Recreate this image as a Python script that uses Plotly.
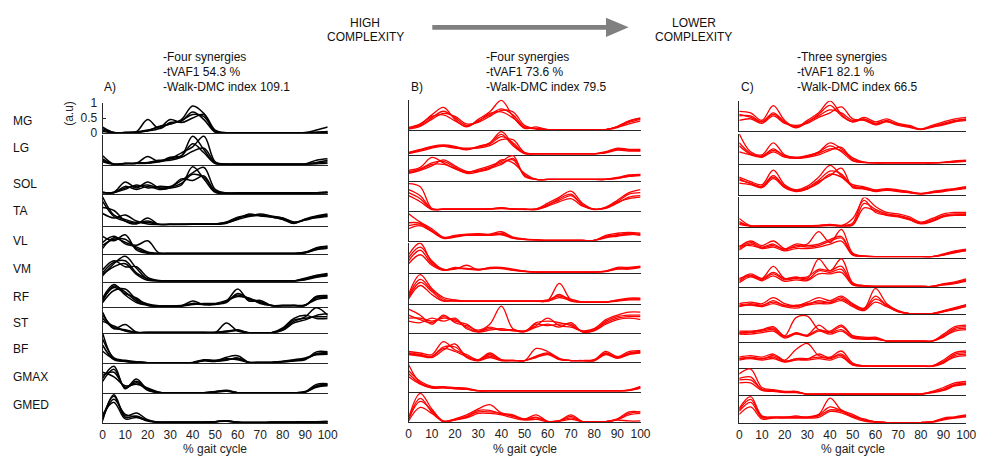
import plotly.graph_objects as go

# ---------------- DATA ----------------
X = [0, 5, 10, 15, 20, 25, 30, 35, 40, 45, 50, 55, 60, 65, 70, 75, 80, 85, 90, 95, 100]
MUSCLES = ["MG", "LG", "SOL", "TA", "VL", "VM", "RF", "ST", "BF", "GMAX", "GMED"]
X_TICKS = [0, 10, 20, 30, 40, 50, 60, 70, 80, 90, 100]
Y_TICKS = [0, 0.5, 1]
Y_TICK_TEXT = ["0", "0.5", "1"]
PANEL_TITLES = ["A)", "B)", "C)"]
PANEL_NOTES = [
    ["-Four synergies", "-tVAF1 54.3 %", "-Walk-DMC index 109.1"],
    ["-Four synergies", "-tVAF1 73.6 %", "-Walk-DMC index 79.5"],
    ["-Three synergies", "-tVAF1 82.1 %", "-Walk-DMC index 66.5"],
]

# Panel A (black)
A_MG = [[0.15,0.02,0.02,0.04,0.10,0.20,0.30,0.42,0.62,0.55,0.05,0.01,0.01,0.01,0.01,0.01,0.01,0.01,0.01,0.02,0.05],
        [0.20,0.02,0.02,0.03,0.08,0.22,0.30,0.45,0.90,0.65,0.06,0.01,0.01,0.01,0.01,0.01,0.01,0.01,0.02,0.10,0.20],
        [0.10,0.01,0.02,0.05,0.45,0.15,0.35,0.40,0.70,0.45,0.03,0.01,0.01,0.01,0.01,0.01,0.01,0.01,0.01,0.02,0.03],
        [0.05,0.01,0.01,0.03,0.07,0.15,0.45,0.35,0.50,0.62,0.10,0.01,0.01,0.01,0.01,0.01,0.01,0.01,0.01,0.03,0.04]]
A_LG = [[0.30,0.02,0.04,0.05,0.06,0.12,0.15,0.25,0.45,0.55,0.08,0.02,0.02,0.02,0.02,0.02,0.02,0.02,0.02,0.05,0.10],
        [0.20,0.02,0.05,0.05,0.28,0.10,0.20,0.30,0.95,0.50,0.05,0.02,0.02,0.02,0.02,0.02,0.02,0.02,0.03,0.15,0.20],
        [0.10,0.01,0.03,0.06,0.08,0.15,0.20,0.40,0.60,0.95,0.10,0.02,0.02,0.02,0.02,0.02,0.02,0.02,0.02,0.08,0.15],
        [0.15,0.02,0.04,0.04,0.05,0.10,0.25,0.30,0.70,0.40,0.04,0.02,0.02,0.02,0.02,0.02,0.02,0.02,0.02,0.03,0.05]]
A_SOL = [[0.05,0.05,0.20,0.25,0.30,0.20,0.22,0.35,0.65,0.55,0.10,0.03,0.03,0.03,0.03,0.03,0.03,0.03,0.03,0.04,0.05],
         [0.05,0.06,0.40,0.20,0.40,0.20,0.20,0.30,0.90,0.50,0.05,0.02,0.03,0.03,0.03,0.03,0.03,0.03,0.03,0.04,0.06],
         [0.04,0.05,0.15,0.30,0.20,0.25,0.25,0.45,0.70,0.88,0.15,0.03,0.03,0.03,0.03,0.03,0.03,0.03,0.03,0.04,0.05],
         [0.06,0.04,0.25,0.15,0.25,0.15,0.20,0.50,0.45,0.60,0.08,0.02,0.02,0.03,0.03,0.03,0.03,0.03,0.03,0.03,0.04]]
A_TA = [[0.95,0.35,0.20,0.10,0.10,0.04,0.04,0.04,0.04,0.05,0.05,0.10,0.25,0.35,0.35,0.30,0.25,0.10,0.20,0.30,0.35],
        [0.60,0.50,0.15,0.05,0.25,0.03,0.03,0.04,0.05,0.05,0.04,0.08,0.22,0.38,0.32,0.28,0.22,0.08,0.22,0.32,0.38],
        [0.40,0.25,0.35,0.15,0.05,0.03,0.04,0.04,0.04,0.04,0.05,0.12,0.28,0.32,0.38,0.32,0.25,0.12,0.18,0.28,0.32],
        [0.80,0.30,0.15,0.08,0.15,0.04,0.04,0.03,0.04,0.05,0.05,0.09,0.20,0.30,0.33,0.28,0.20,0.07,0.20,0.26,0.30]]
A_VL = [[0.30,0.50,0.50,0.20,0.05,0.03,0.03,0.03,0.03,0.03,0.03,0.03,0.03,0.03,0.03,0.03,0.03,0.03,0.06,0.18,0.22],
        [0.60,0.45,0.65,0.15,0.04,0.03,0.03,0.03,0.03,0.03,0.03,0.03,0.03,0.03,0.03,0.03,0.03,0.03,0.08,0.20,0.25],
        [0.20,0.55,0.40,0.30,0.45,0.05,0.03,0.03,0.03,0.03,0.03,0.03,0.03,0.03,0.03,0.03,0.03,0.03,0.05,0.15,0.20],
        [0.40,0.60,0.35,0.25,0.08,0.03,0.03,0.03,0.03,0.03,0.03,0.03,0.03,0.03,0.03,0.03,0.03,0.03,0.05,0.22,0.28]]
A_VM = [[0.30,0.65,0.70,0.30,0.10,0.03,0.03,0.03,0.03,0.03,0.03,0.03,0.03,0.03,0.03,0.03,0.03,0.03,0.10,0.20,0.25],
        [0.20,0.60,0.85,0.45,0.08,0.03,0.03,0.03,0.03,0.03,0.03,0.03,0.03,0.03,0.03,0.03,0.03,0.03,0.08,0.18,0.22],
        [0.40,0.70,0.50,0.50,0.15,0.04,0.03,0.03,0.03,0.03,0.03,0.03,0.03,0.03,0.03,0.03,0.03,0.03,0.12,0.22,0.28],
        [0.25,0.50,0.60,0.25,0.05,0.03,0.03,0.03,0.03,0.03,0.03,0.03,0.03,0.03,0.03,0.03,0.03,0.03,0.07,0.15,0.20]]
A_RF = [[0.20,0.70,0.50,0.20,0.08,0.03,0.03,0.04,0.12,0.10,0.10,0.18,0.40,0.25,0.15,0.05,0.05,0.05,0.06,0.30,0.32],
        [0.30,0.75,0.40,0.15,0.06,0.03,0.03,0.04,0.20,0.08,0.08,0.20,0.60,0.20,0.22,0.05,0.05,0.05,0.05,0.35,0.35],
        [0.15,0.55,0.60,0.25,0.10,0.04,0.03,0.03,0.08,0.12,0.12,0.22,0.35,0.30,0.12,0.05,0.05,0.05,0.07,0.25,0.30],
        [0.25,0.65,0.45,0.30,0.05,0.03,0.03,0.05,0.10,0.08,0.10,0.15,0.45,0.28,0.18,0.05,0.04,0.05,0.06,0.35,0.38]]
A_ST = [[0.60,0.20,0.10,0.03,0.03,0.03,0.03,0.03,0.03,0.03,0.03,0.05,0.10,0.02,0.02,0.02,0.15,0.45,0.50,0.55,0.55],
        [0.70,0.15,0.30,0.04,0.03,0.03,0.03,0.03,0.03,0.03,0.03,0.35,0.08,0.02,0.02,0.02,0.12,0.40,0.55,0.85,0.60],
        [0.40,0.25,0.08,0.03,0.03,0.03,0.03,0.03,0.03,0.03,0.03,0.08,0.10,0.02,0.02,0.02,0.18,0.50,0.60,0.50,0.50],
        [0.50,0.18,0.12,0.03,0.03,0.03,0.03,0.03,0.03,0.03,0.03,0.06,0.12,0.02,0.02,0.02,0.10,0.35,0.45,0.60,0.65]]
A_BF = [[1.00,0.15,0.08,0.04,0.02,0.02,0.02,0.02,0.02,0.10,0.08,0.12,0.15,0.03,0.03,0.03,0.06,0.10,0.15,0.33,0.35],
        [0.60,0.12,0.06,0.03,0.02,0.02,0.02,0.02,0.02,0.08,0.06,0.20,0.25,0.03,0.03,0.03,0.05,0.08,0.12,0.38,0.38],
        [0.80,0.18,0.10,0.05,0.02,0.02,0.02,0.02,0.03,0.12,0.10,0.15,0.12,0.03,0.03,0.03,0.07,0.12,0.18,0.28,0.30],
        [0.40,0.14,0.07,0.04,0.02,0.02,0.02,0.02,0.02,0.09,0.07,0.10,0.18,0.03,0.03,0.03,0.05,0.09,0.14,0.30,0.32]]
A_GMAX = [[0.60,0.70,0.20,0.40,0.15,0.03,0.02,0.02,0.02,0.02,0.05,0.08,0.02,0.02,0.02,0.02,0.02,0.02,0.05,0.25,0.30],
          [0.50,0.90,0.15,0.48,0.12,0.03,0.02,0.02,0.02,0.02,0.06,0.10,0.02,0.02,0.02,0.02,0.02,0.02,0.06,0.30,0.32],
          [0.70,0.55,0.25,0.30,0.18,0.04,0.02,0.02,0.02,0.02,0.04,0.07,0.02,0.02,0.02,0.02,0.02,0.02,0.04,0.20,0.25],
          [0.40,0.80,0.18,0.35,0.10,0.03,0.02,0.02,0.02,0.02,0.05,0.09,0.02,0.02,0.02,0.02,0.02,0.02,0.05,0.22,0.28]]
A_GMED = [[0.20,0.90,0.20,0.25,0.10,0.04,0.04,0.04,0.04,0.04,0.06,0.08,0.04,0.03,0.03,0.04,0.04,0.04,0.05,0.05,0.06],
          [0.10,0.95,0.25,0.35,0.12,0.04,0.04,0.04,0.04,0.04,0.06,0.07,0.04,0.03,0.03,0.04,0.04,0.04,0.05,0.06,0.07],
          [0.30,0.70,0.15,0.20,0.08,0.04,0.04,0.04,0.04,0.04,0.05,0.09,0.04,0.03,0.03,0.04,0.04,0.04,0.05,0.05,0.06],
          [0.15,0.80,0.30,0.22,0.10,0.04,0.04,0.04,0.04,0.04,0.06,0.08,0.04,0.03,0.03,0.04,0.04,0.04,0.05,0.05,0.05]]

# Panel B (red)
B_MG = [[0.05,0.15,0.40,0.62,0.40,0.15,0.30,0.50,0.70,0.50,0.10,0.05,0.01,0.01,0.01,0.01,0.01,0.01,0.10,0.25,0.35],
        [0.08,0.20,0.50,0.75,0.35,0.10,0.35,0.60,0.98,0.45,0.05,0.10,0.01,0.01,0.01,0.01,0.01,0.01,0.12,0.30,0.40],
        [0.03,0.12,0.35,0.55,0.45,0.20,0.25,0.45,0.65,0.60,0.15,0.03,0.01,0.01,0.01,0.01,0.01,0.01,0.08,0.20,0.30],
        [0.06,0.18,0.45,0.50,0.30,0.12,0.28,0.55,0.60,0.40,0.08,0.04,0.01,0.01,0.01,0.01,0.01,0.01,0.10,0.28,0.38]]
B_LG = [[0.05,0.15,0.25,0.30,0.25,0.20,0.25,0.35,0.60,0.40,0.05,0.03,0.03,0.03,0.03,0.03,0.03,0.08,0.18,0.15,0.15],
        [0.08,0.18,0.28,0.33,0.28,0.18,0.28,0.40,0.77,0.35,0.04,0.03,0.03,0.03,0.03,0.03,0.03,0.10,0.22,0.18,0.18],
        [0.04,0.12,0.22,0.28,0.22,0.22,0.22,0.30,0.50,0.50,0.08,0.03,0.03,0.03,0.03,0.03,0.03,0.06,0.15,0.12,0.12],
        [0.06,0.16,0.26,0.30,0.24,0.16,0.26,0.38,0.68,0.30,0.04,0.03,0.03,0.03,0.03,0.03,0.03,0.07,0.20,0.16,0.14]]
B_SOL = [[0.30,0.40,0.60,0.65,0.45,0.30,0.35,0.45,0.60,0.70,0.20,0.05,0.05,0.05,0.05,0.05,0.05,0.05,0.10,0.18,0.20],
         [0.35,0.45,0.78,0.60,0.40,0.28,0.38,0.50,0.65,0.84,0.15,0.05,0.05,0.05,0.05,0.05,0.05,0.06,0.12,0.20,0.22],
         [0.25,0.35,0.50,0.70,0.50,0.32,0.32,0.40,0.70,0.60,0.25,0.05,0.05,0.05,0.05,0.05,0.05,0.05,0.08,0.15,0.18],
         [0.28,0.38,0.55,0.55,0.42,0.25,0.30,0.42,0.55,0.75,0.18,0.05,0.05,0.05,0.05,0.05,0.05,0.05,0.09,0.16,0.20]]
B_TA = [[0.60,0.40,0.05,0.05,0.05,0.05,0.05,0.06,0.08,0.06,0.05,0.05,0.20,0.35,0.50,0.20,0.05,0.10,0.30,0.55,0.60],
        [0.90,0.80,0.08,0.05,0.05,0.05,0.05,0.06,0.10,0.06,0.05,0.06,0.25,0.45,0.65,0.25,0.05,0.12,0.35,0.60,0.70],
        [0.50,0.30,0.04,0.05,0.05,0.05,0.05,0.05,0.07,0.05,0.04,0.04,0.15,0.30,0.40,0.15,0.05,0.08,0.25,0.45,0.50],
        [0.70,0.50,0.06,0.05,0.05,0.05,0.05,0.06,0.09,0.05,0.05,0.05,0.18,0.40,0.55,0.18,0.04,0.09,0.28,0.40,0.45]]
B_VL = [[0.50,0.55,0.35,0.10,0.15,0.20,0.20,0.20,0.25,0.10,0.05,0.03,0.01,0.01,0.01,0.01,0.01,0.15,0.20,0.25,0.20],
        [0.90,0.62,0.40,0.12,0.18,0.22,0.22,0.22,0.30,0.12,0.06,0.03,0.01,0.01,0.01,0.01,0.01,0.18,0.25,0.28,0.25],
        [0.40,0.50,0.30,0.08,0.12,0.18,0.18,0.18,0.20,0.08,0.04,0.02,0.01,0.01,0.01,0.01,0.01,0.12,0.18,0.22,0.18],
        [0.60,0.58,0.32,0.10,0.14,0.20,0.24,0.20,0.22,0.10,0.05,0.03,0.01,0.01,0.01,0.01,0.01,0.10,0.15,0.20,0.22]]
B_VM = [[0.40,0.75,0.30,0.10,0.15,0.15,0.10,0.15,0.15,0.10,0.05,0.02,0.02,0.02,0.02,0.02,0.02,0.05,0.15,0.15,0.20],
        [0.60,0.99,0.35,0.12,0.12,0.25,0.10,0.18,0.18,0.12,0.06,0.02,0.02,0.02,0.02,0.02,0.02,0.06,0.18,0.18,0.22],
        [0.30,0.60,0.25,0.08,0.18,0.12,0.10,0.14,0.14,0.08,0.04,0.02,0.02,0.02,0.02,0.02,0.02,0.04,0.12,0.12,0.18],
        [0.50,0.85,0.40,0.10,0.14,0.14,0.12,0.16,0.16,0.10,0.05,0.02,0.02,0.02,0.02,0.02,0.02,0.05,0.14,0.16,0.20]]
B_RF = [[0.20,0.70,0.40,0.10,0.10,0.08,0.08,0.08,0.08,0.08,0.08,0.08,0.08,0.20,0.10,0.05,0.05,0.05,0.10,0.15,0.15],
        [0.30,0.96,0.50,0.20,0.12,0.08,0.08,0.08,0.08,0.08,0.08,0.08,0.10,0.67,0.12,0.05,0.05,0.05,0.12,0.18,0.18],
        [0.15,0.60,0.30,0.08,0.10,0.08,0.08,0.08,0.08,0.08,0.08,0.08,0.08,0.30,0.08,0.05,0.05,0.05,0.08,0.12,0.12],
        [0.25,0.80,0.45,0.15,0.08,0.08,0.08,0.08,0.08,0.08,0.08,0.08,0.12,0.25,0.15,0.05,0.05,0.05,0.10,0.14,0.16]]
B_ST = [[0.50,0.50,0.40,0.50,0.45,0.20,0.05,0.15,0.10,0.10,0.05,0.30,0.25,0.30,0.30,0.05,0.10,0.40,0.55,0.60,0.60],
        [0.80,0.60,0.30,0.60,0.35,0.25,0.10,0.30,0.90,0.15,0.08,0.25,0.50,0.25,0.20,0.08,0.15,0.45,0.60,0.70,0.70],
        [0.40,0.35,0.50,0.40,0.50,0.15,0.04,0.10,0.15,0.08,0.05,0.20,0.30,0.20,0.35,0.04,0.08,0.30,0.45,0.50,0.45],
        [0.60,0.45,0.35,0.55,0.40,0.30,0.06,0.20,0.10,0.12,0.06,0.35,0.40,0.35,0.25,0.06,0.12,0.35,0.50,0.55,0.55]]
B_BF = [[0.30,0.25,0.20,0.50,0.50,0.20,0.05,0.20,0.05,0.05,0.05,0.20,0.30,0.10,0.05,0.05,0.05,0.30,0.15,0.30,0.35],
        [0.35,0.30,0.25,0.68,0.40,0.25,0.08,0.30,0.08,0.06,0.05,0.45,0.35,0.12,0.05,0.05,0.08,0.35,0.18,0.35,0.38],
        [0.25,0.20,0.15,0.40,0.60,0.15,0.04,0.15,0.05,0.05,0.05,0.15,0.25,0.08,0.05,0.05,0.04,0.25,0.12,0.25,0.30],
        [0.28,0.22,0.18,0.45,0.35,0.18,0.06,0.25,0.06,0.05,0.05,0.18,0.28,0.10,0.05,0.05,0.06,0.28,0.14,0.28,0.32]]
B_GMAX = [[0.90,0.30,0.15,0.15,0.12,0.10,0.03,0.03,0.03,0.03,0.03,0.03,0.03,0.03,0.03,0.03,0.03,0.03,0.03,0.05,0.15],
          [0.70,0.35,0.18,0.17,0.14,0.12,0.04,0.03,0.03,0.03,0.03,0.03,0.03,0.03,0.03,0.03,0.03,0.03,0.03,0.06,0.18],
          [0.50,0.25,0.12,0.13,0.10,0.08,0.03,0.03,0.03,0.03,0.03,0.03,0.03,0.03,0.03,0.03,0.03,0.03,0.03,0.04,0.12],
          [0.60,0.28,0.14,0.14,0.11,0.09,0.03,0.03,0.03,0.03,0.03,0.03,0.03,0.03,0.03,0.03,0.03,0.03,0.03,0.05,0.14]]
B_GMED = [[0.10,0.70,0.40,0.03,0.10,0.20,0.35,0.35,0.30,0.20,0.10,0.15,0.03,0.05,0.15,0.03,0.03,0.03,0.10,0.30,0.35],
          [0.15,0.97,0.45,0.05,0.12,0.25,0.45,0.59,0.32,0.25,0.12,0.25,0.04,0.06,0.25,0.03,0.03,0.03,0.12,0.35,0.35],
          [0.05,0.50,0.30,0.03,0.08,0.15,0.30,0.30,0.25,0.15,0.08,0.10,0.03,0.04,0.10,0.03,0.03,0.03,0.08,0.05,0.05],
          [0.12,0.80,0.35,0.04,0.09,0.18,0.40,0.40,0.28,0.22,0.10,0.18,0.03,0.05,0.20,0.03,0.03,0.03,0.09,0.25,0.30]]

# Panel C (red)
C_MG = [[0.50,0.50,0.30,0.60,0.30,0.15,0.30,0.50,0.70,0.60,0.35,0.40,0.25,0.35,0.20,0.15,0.05,0.15,0.25,0.35,0.40],
        [0.65,0.60,0.35,0.84,0.35,0.12,0.35,0.60,1.00,0.55,0.30,0.45,0.30,0.40,0.25,0.18,0.06,0.18,0.30,0.40,0.45],
        [0.35,0.40,0.25,0.50,0.25,0.18,0.25,0.45,0.60,0.80,0.40,0.35,0.20,0.30,0.18,0.12,0.04,0.12,0.20,0.30,0.35],
        [0.55,0.45,0.30,0.55,0.28,0.10,0.28,0.55,0.85,0.50,0.30,0.38,0.22,0.32,0.22,0.14,0.05,0.14,0.22,0.32,0.38]]
C_LG = [[0.70,0.35,0.25,0.50,0.25,0.20,0.25,0.35,0.50,0.45,0.15,0.05,0.03,0.03,0.03,0.03,0.03,0.03,0.05,0.08,0.10],
        [1.00,0.40,0.30,0.70,0.30,0.22,0.28,0.40,0.70,0.50,0.20,0.06,0.03,0.03,0.03,0.03,0.03,0.03,0.05,0.10,0.12],
        [0.40,0.30,0.22,0.40,0.22,0.18,0.22,0.30,0.45,0.55,0.12,0.04,0.03,0.03,0.03,0.03,0.03,0.03,0.04,0.06,0.08],
        [0.60,0.32,0.26,0.45,0.28,0.20,0.26,0.38,0.60,0.40,0.10,0.05,0.03,0.03,0.03,0.03,0.03,0.03,0.05,0.07,0.10]]
C_SOL = [[0.50,0.40,0.30,0.65,0.30,0.15,0.25,0.50,0.80,0.70,0.30,0.25,0.15,0.20,0.15,0.10,0.05,0.10,0.15,0.20,0.25],
         [0.60,0.45,0.35,0.83,0.35,0.18,0.30,0.60,0.99,0.65,0.35,0.28,0.18,0.22,0.18,0.12,0.06,0.12,0.18,0.22,0.28],
         [0.40,0.35,0.25,0.55,0.25,0.12,0.20,0.45,0.65,0.90,0.25,0.22,0.12,0.18,0.12,0.08,0.04,0.08,0.12,0.18,0.22],
         [0.55,0.38,0.28,0.60,0.28,0.14,0.22,0.40,0.70,0.60,0.28,0.20,0.14,0.16,0.14,0.09,0.05,0.09,0.14,0.19,0.24]]
C_TA = [[0.15,0.05,0.05,0.05,0.05,0.05,0.05,0.06,0.08,0.06,0.10,0.80,0.60,0.45,0.40,0.30,0.15,0.25,0.40,0.45,0.45],
        [0.30,0.06,0.05,0.05,0.05,0.05,0.06,0.07,0.10,0.07,0.15,1.00,0.70,0.50,0.45,0.35,0.18,0.30,0.45,0.50,0.50],
        [0.10,0.04,0.05,0.05,0.05,0.05,0.05,0.05,0.06,0.05,0.08,0.65,0.55,0.40,0.35,0.25,0.12,0.20,0.35,0.40,0.40],
        [0.20,0.05,0.05,0.05,0.05,0.05,0.05,0.06,0.09,0.06,0.30,0.90,0.50,0.42,0.38,0.28,0.14,0.22,0.38,0.42,0.44]]
C_VL = [[0.30,0.50,0.35,0.45,0.25,0.40,0.35,0.40,0.55,0.65,0.10,0.05,0.03,0.03,0.03,0.03,0.03,0.03,0.10,0.20,0.25],
        [0.35,0.55,0.40,0.55,0.30,0.35,0.45,0.86,0.50,0.94,0.15,0.05,0.03,0.03,0.03,0.03,0.03,0.03,0.12,0.22,0.28],
        [0.25,0.45,0.30,0.35,0.22,0.30,0.30,0.35,0.45,0.55,0.08,0.04,0.03,0.03,0.03,0.03,0.03,0.03,0.08,0.18,0.22],
        [0.40,0.40,0.32,0.40,0.28,0.45,0.40,0.45,0.60,0.70,0.12,0.05,0.03,0.03,0.03,0.03,0.03,0.03,0.09,0.16,0.24]]
C_VM = [[0.20,0.40,0.25,0.45,0.25,0.30,0.25,0.55,0.50,0.60,0.10,0.05,0.03,0.03,0.03,0.03,0.03,0.03,0.10,0.15,0.25],
        [0.25,0.45,0.30,0.70,0.30,0.35,0.30,0.94,0.55,0.95,0.15,0.06,0.03,0.03,0.03,0.03,0.03,0.03,0.12,0.18,0.28],
        [0.15,0.35,0.22,0.38,0.20,0.25,0.22,0.45,0.45,0.50,0.08,0.04,0.03,0.03,0.03,0.03,0.03,0.03,0.08,0.12,0.22],
        [0.30,0.38,0.28,0.50,0.28,0.32,0.35,0.60,0.55,0.70,0.12,0.05,0.03,0.03,0.03,0.03,0.03,0.03,0.09,0.14,0.20]]
C_RF = [[0.30,0.35,0.30,0.40,0.30,0.25,0.35,0.40,0.40,0.50,0.30,0.15,0.50,0.30,0.10,0.02,0.02,0.02,0.10,0.20,0.30],
        [0.35,0.40,0.35,0.55,0.35,0.28,0.40,0.55,0.45,0.60,0.35,0.20,0.86,0.35,0.12,0.02,0.02,0.02,0.12,0.22,0.32],
        [0.25,0.30,0.25,0.35,0.25,0.20,0.30,0.35,0.35,0.45,0.25,0.12,0.40,0.25,0.08,0.02,0.02,0.02,0.08,0.18,0.25],
        [0.28,0.32,0.28,0.45,0.28,0.30,0.32,0.45,0.38,0.55,0.30,0.18,0.60,0.28,0.09,0.02,0.02,0.02,0.09,0.16,0.28]]
C_ST = [[0.30,0.30,0.35,0.40,0.15,0.30,0.20,0.40,0.30,0.40,0.15,0.10,0.10,0.02,0.02,0.02,0.02,0.02,0.20,0.45,0.50],
        [0.35,0.35,0.40,0.50,0.20,0.80,0.85,0.40,0.35,0.55,0.20,0.15,0.12,0.02,0.02,0.02,0.02,0.02,0.25,0.50,0.55],
        [0.25,0.25,0.30,0.35,0.12,0.25,0.18,0.35,0.25,0.35,0.12,0.08,0.08,0.02,0.02,0.02,0.02,0.02,0.15,0.40,0.45],
        [0.28,0.32,0.38,0.45,0.18,0.28,0.22,0.55,0.32,0.50,0.18,0.12,0.15,0.02,0.02,0.02,0.02,0.02,0.18,0.35,0.40]]
C_BF = [[0.30,0.35,0.30,0.35,0.20,0.30,0.30,0.35,0.30,0.40,0.10,0.05,0.05,0.05,0.05,0.05,0.05,0.05,0.20,0.45,0.50],
        [0.35,0.40,0.35,0.45,0.25,0.60,0.80,0.40,0.35,0.55,0.15,0.06,0.05,0.05,0.05,0.05,0.05,0.06,0.25,0.50,0.55],
        [0.25,0.30,0.25,0.30,0.18,0.25,0.25,0.30,0.25,0.35,0.08,0.04,0.05,0.05,0.05,0.05,0.05,0.04,0.15,0.40,0.45],
        [0.28,0.32,0.28,0.40,0.22,0.28,0.28,0.45,0.32,0.45,0.12,0.05,0.05,0.05,0.05,0.05,0.05,0.05,0.18,0.35,0.40]]
C_GMAX = [[0.50,0.50,0.20,0.15,0.10,0.10,0.03,0.03,0.03,0.03,0.03,0.03,0.03,0.03,0.03,0.03,0.03,0.10,0.20,0.35,0.40],
          [0.70,0.86,0.25,0.18,0.12,0.12,0.03,0.03,0.03,0.03,0.03,0.03,0.03,0.03,0.03,0.03,0.03,0.12,0.25,0.40,0.45],
          [0.40,0.40,0.15,0.12,0.08,0.08,0.03,0.03,0.03,0.03,0.03,0.03,0.03,0.03,0.03,0.03,0.03,0.08,0.15,0.30,0.35],
          [0.55,0.60,0.18,0.14,0.09,0.09,0.03,0.03,0.03,0.03,0.03,0.03,0.03,0.03,0.03,0.03,0.03,0.09,0.18,0.32,0.38]]
C_GMED = [[0.40,0.70,0.20,0.20,0.20,0.20,0.20,0.25,0.45,0.40,0.25,0.10,0.05,0.03,0.03,0.03,0.03,0.05,0.15,0.20,0.25],
          [0.50,0.89,0.25,0.22,0.22,0.22,0.22,0.30,0.84,0.45,0.30,0.12,0.06,0.03,0.03,0.03,0.03,0.06,0.18,0.22,0.28],
          [0.30,0.55,0.15,0.18,0.18,0.18,0.18,0.20,0.40,0.35,0.20,0.08,0.04,0.03,0.03,0.03,0.03,0.04,0.12,0.18,0.22],
          [0.45,0.80,0.22,0.19,0.19,0.25,0.19,0.28,0.55,0.42,0.22,0.15,0.05,0.03,0.03,0.03,0.03,0.05,0.14,0.19,0.24]]

PANEL_A = [A_MG, A_LG, A_SOL, A_TA, A_VL, A_VM, A_RF, A_ST, A_BF, A_GMAX, A_GMED]
PANEL_B = [B_MG, B_LG, B_SOL, B_TA, B_VL, B_VM, B_RF, B_ST, B_BF, B_GMAX, B_GMED]
PANEL_C = [C_MG, C_LG, C_SOL, C_TA, C_VL, C_VM, C_RF, C_ST, C_BF, C_GMAX, C_GMED]

# ---------------- LAYOUT (pixels) ----------------
W, H = 993, 467
ROW_H = 31
FONT = "Liberation Sans, Arial, sans-serif"
AXCOL = "#262626"

panels = [
    dict(rows=PANEL_A, color="#000000", x0=101, x1=329, width=1.5,
         bases=[130, 162.7, 192.7, 225.3, 255, 283.3, 309.3, 336.5, 367.3, 398.3, 429.3]),
    dict(rows=PANEL_B, color="#ff0000", x0=411, x1=646, width=1.3,
         bases=[126.7, 152.3, 179.3, 210, 241, 274, 305.7, 336.3, 366, 396.7, 428.3]),
    dict(rows=PANEL_C, color="#ff0000", x0=746, x1=976, width=1.3,
         bases=[127.7, 161.7, 194, 227.3, 258.3, 289, 316.7, 345, 371.7, 400, 429.3]),
]

def px_x(v):
    return v / W

def px_y(v):
    return 1 - v / H

fig = go.Figure()
layout_axes = {}
n = 0
for p, pan in enumerate(panels):
    for r, curves in enumerate(pan["rows"]):
        n += 1
        sfx = "" if n == 1 else str(n)
        for c in curves:
            fig.add_trace(go.Scatter(
                x=X, y=c, mode="lines",
                line=dict(color=pan["color"], width=pan["width"], shape="spline", smoothing=1.0),
                xaxis="x" + sfx, yaxis="y" + sfx, showlegend=False, hoverinfo="skip"))
        b = pan["bases"][r]
        last = (r == len(pan["rows"]) - 1)
        layout_axes["xaxis" + sfx] = dict(
            domain=[px_x(pan["x0"]), px_x(pan["x1"])], range=[0, 100], anchor="y" + sfx,
            showline=True, linecolor=AXCOL, linewidth=1, showgrid=False, zeroline=False,
            ticks="", showticklabels=last, tickvals=X_TICKS,
            tickfont=dict(family=FONT, size=12, color="#222222"), fixedrange=True)
        first_a = (p == 0 and r == 0)
        layout_axes["yaxis" + sfx] = dict(
            domain=[px_y(b), px_y(b - ROW_H)], range=[0, 1], anchor="x" + sfx,
            showline=True, linecolor=AXCOL, linewidth=1, showgrid=False, zeroline=False,
            ticks="inside" if first_a else "", ticklen=3, tickcolor=AXCOL,
            showticklabels=first_a, tickvals=Y_TICKS, ticktext=Y_TICK_TEXT, ticklabelstandoff=2,
            tickfont=dict(family=FONT, size=12, color="#222222"), fixedrange=True)

annotations = []
label_y = [118, 145, 182, 210, 241, 270, 299, 326, 353, 381, 410]
for name, yy in zip(MUSCLES, label_y):
    annotations.append(dict(text=name, x=px_x(8), y=px_y(yy), xref="paper", yref="paper",
                            xanchor="left", yanchor="middle", showarrow=False,
                            font=dict(family=FONT, size=12, color="#111111")))

annotations.append(dict(text="(a.u)", x=px_x(67), y=px_y(110), xref="paper", yref="paper",
                        textangle=-90, xanchor="center", yanchor="middle", showarrow=False,
                        font=dict(family=FONT, size=12, color="#222222")))

title_x = [100, 411, 746]
note_x = [160, 487, 803]
for p in range(3):
    annotations.append(dict(text=PANEL_TITLES[p], x=px_x(title_x[p]), y=px_y(82), xref="paper", yref="paper",
                            xanchor="left", yanchor="middle", showarrow=False,
                            font=dict(family=FONT, size=12, color="#111111")))
    for k, line in enumerate(PANEL_NOTES[p]):
        annotations.append(dict(text=line, x=px_x(note_x[p]), y=px_y(52 + 15 * k), xref="paper", yref="paper",
                                xanchor="left", yanchor="middle", showarrow=False,
                                font=dict(family=FONT, size=12, color="#111111")))
    pan = panels[p]
    annotations.append(dict(text="% gait cycle", x=px_x((pan["x0"] + pan["x1"]) / 2), y=px_y(456),
                            xref="paper", yref="paper", xanchor="center", yanchor="middle", showarrow=False,
                            font=dict(family=FONT, size=12, color="#222222")))

for txt, cx in [("HIGH", 367), ("LOWER", 700)]:
    annotations.append(dict(text=txt, x=px_x(cx), y=px_y(16), xref="paper", yref="paper",
                            xanchor="center", yanchor="middle", showarrow=False,
                            font=dict(family=FONT, size=12, color="#111111")))
    annotations.append(dict(text="COMPLEXITY", x=px_x(cx), y=px_y(31), xref="paper", yref="paper",
                            xanchor="center", yanchor="middle", showarrow=False,
                            font=dict(family=FONT, size=12, color="#111111")))

# grey arrow (decoration)
ay = 21
arrow_path = "M {} {} L {} {} L {} {} L {} {} L {} {} L {} {} L {} {} Z".format(
    px_x(435), px_y(ay - 2.5), px_x(611), px_y(ay - 2.5), px_x(611), px_y(ay - 10),
    px_x(634), px_y(ay), px_x(611), px_y(ay + 10), px_x(611), px_y(ay + 2.5),
    px_x(435), px_y(ay + 2.5))
shapes = [dict(type="path", path=arrow_path, xref="paper", yref="paper",
               fillcolor="#808080", line=dict(width=0))]

fig.update_layout(
    width=W, height=H, margin=dict(l=0, r=0, t=0, b=0),
    paper_bgcolor="white", plot_bgcolor="rgba(0,0,0,0)",
    font=dict(family=FONT, size=12, color="#111111"),
    annotations=annotations, shapes=shapes, showlegend=False,
    **layout_axes)

fig.write_html("out.html")
